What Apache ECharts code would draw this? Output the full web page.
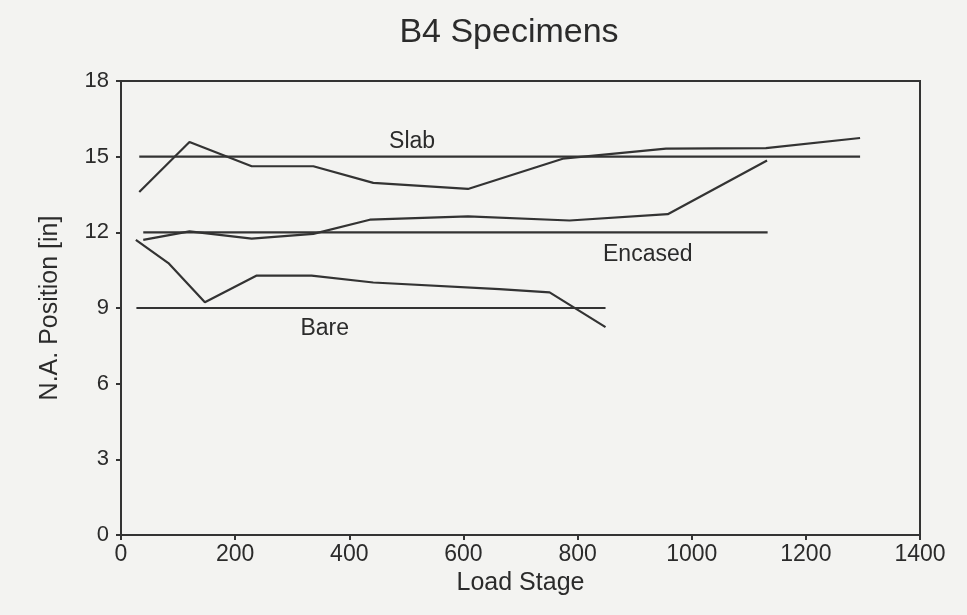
<!DOCTYPE html>
<html><head><meta charset="utf-8">
<script src="https://cdn.jsdelivr.net/npm/echarts@6/dist/echarts.min.js"></script>
<style>html,body{margin:0;padding:0;background:#f3f3f1;}#c{width:967px;height:615px;}</style>
</head><body><div id="c"></div>
<script>
const slabRef = [[32, 15], [1295, 15]];
const encasedRef = [[39, 12], [1133, 12]];
const bareRef = [[27, 9], [849, 9]];
const slabCurve = [[32,13.6],[120,15.58],[229,14.62],[337,14.62],[442,13.96],[608,13.72],[774,14.92],[955,15.32],[1130,15.34],[1295,15.74]];
const encasedCurve = [[39,11.7],[120,12.04],[229,11.75],[337,11.94],[436,12.5],[608,12.63],[786,12.47],[958,12.72],[1132,14.85]];
const bareCurve = [[26,11.7],[83,10.78],[147,9.23],[237,10.28],[334,10.28],[442,10.01],[663,9.75],[751,9.62],[849,8.24]];
const labels = [[510, 15.58, 'Slab'], [923, 11.1, 'Encased'], [357, 8.2, 'Bare']];
const xTicks = [0, 200, 400, 600, 800, 1000, 1200, 1400];
const yTicks = [0, 3, 6, 9, 12, 15, 18];

const lineColor = '#333';
const textColor = '#2b2b2b';
const font = '"Liberation Sans", Arial, sans-serif';
function ln(data){ return {type:'line', data, symbol:'none', lineStyle:{color:lineColor, width:2.2}, silent:true, animation:false}; }

const chart = echarts.init(document.getElementById('c'));
chart.setOption({
  backgroundColor:'#f3f3f1',
  animation:false,
  title:{text:'B4 Specimens', left:504, top:11, textAlign:'center', textStyle:{fontFamily:font, fontSize:34, fontWeight:'normal', color:textColor}},
  grid:{left:121, right:47, top:81, bottom:80, show:true, borderColor:lineColor, borderWidth:2, backgroundColor:'transparent'},
  xAxis:{type:'value', min:xTicks[0], max:xTicks[xTicks.length-1], interval:200,
    name:'Load Stage', nameLocation:'middle', nameGap:33, nameTextStyle:{fontFamily:font, fontSize:25, color:textColor},
    axisLine:{lineStyle:{color:lineColor, width:2}}, axisTick:{length:5, lineStyle:{color:lineColor, width:2}},
    axisLabel:{fontFamily:font, fontSize:23, color:textColor, margin:8, formatter:v=>String(v)}, splitLine:{show:false}},
  yAxis:{type:'value', min:yTicks[0], max:yTicks[yTicks.length-1], interval:3,
    name:'N.A. Position [in]', nameLocation:'middle', nameGap:58, nameTextStyle:{fontFamily:font, fontSize:25, color:textColor},
    axisLine:{lineStyle:{color:lineColor, width:2}}, axisTick:{length:5, lineStyle:{color:lineColor, width:2}},
    axisLabel:{fontFamily:font, fontSize:22, color:textColor, margin:12, formatter:v=>String(v)}, splitLine:{show:false}},
  series:[
    ln(slabRef), ln(encasedRef), ln(bareRef), ln(slabCurve), ln(encasedCurve), ln(bareCurve),
    {type:'scatter', symbolSize:1, itemStyle:{opacity:0}, silent:true, data:labels.map(l=>({value:[l[0],l[1]], name:l[2]})),
     label:{show:true, position:'inside', formatter:p=>p.name, fontFamily:font, fontSize:23, color:textColor, opacity:1}}
  ]
});
</script></body></html>
